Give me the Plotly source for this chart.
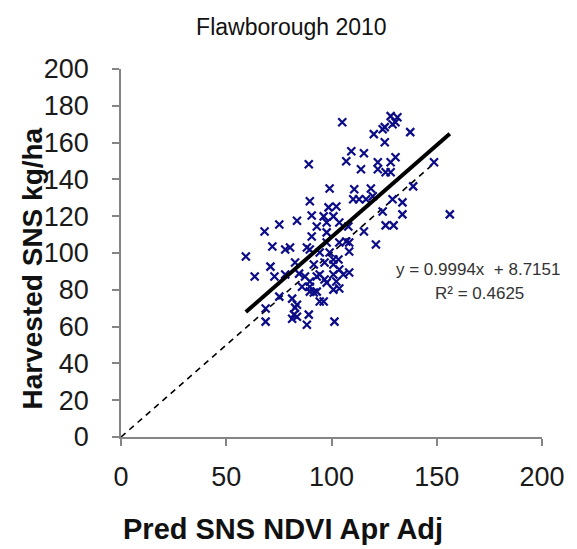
import plotly.graph_objects as go

# Field observations: predicted SNS from April NDVI (adjusted) vs harvested SNS, kg/ha
pred_sns = [
    105.1, 128.1, 131.3, 130.4, 129.0, 125.3, 124.3, 120.1, 137.4, 125.3,
    109.4, 115.4, 107.0, 122.0, 130.4, 128.1, 89.2, 114.0, 122.0, 125.7,
    128.1, 148.7, 110.8, 118.7, 99.1, 138.8, 110.3, 113.1, 116.4, 119.6,
    129.0, 133.7, 89.7, 98.6, 102.3, 124.3, 133.7, 156.2, 90.6, 83.6,
    96.3, 100.9, 75.2, 97.7, 103.7, 93.0, 108.0, 125.7, 129.5, 115.4,
    68.2, 97.7, 121.1, 90.6, 103.7, 107.0, 108.4, 71.9, 78.0, 80.3,
    88.3, 59.3, 99.1, 94.4, 100.9, 89.7, 108.4, 96.7, 103.3, 82.7,
    103.7, 108.4, 71.0, 63.5, 72.9, 78.0, 84.6, 87.4, 93.0, 91.6,
    100.9, 94.4, 100.9, 105.6, 86.0, 89.7, 97.7, 102.3, 89.7, 96.7,
    75.2, 81.3, 91.6, 93.0, 100.9, 103.7, 68.7, 83.6, 82.7, 94.4,
    96.3, 68.7, 82.2, 83.6, 81.3, 89.2, 88.3, 101.4, 89.7, 97.7,
]
harvested_sns = [
    171.1, 174.4, 173.8, 171.1, 170.0, 168.4, 167.3, 164.6, 165.7, 160.2,
    155.3, 154.2, 149.9, 149.3, 152.0, 149.3, 148.2, 145.5, 145.5, 143.9,
    143.9, 149.3, 134.6, 135.1, 135.1, 136.2, 129.2, 129.2, 129.2, 130.8,
    129.2, 127.5, 128.1, 124.8, 125.3, 122.6, 121.0, 121.0, 120.4, 117.5,
    119.9, 119.9, 115.5, 116.6, 116.6, 114.4, 114.4, 115.0, 115.0, 111.7,
    111.7, 111.2, 104.6, 109.0, 105.7, 106.3, 105.7, 103.5, 101.9, 103.0,
    103.0, 98.1, 100.3, 100.3, 96.5, 101.9, 100.8, 94.8, 96.5, 94.8,
    91.0, 89.4, 92.6, 87.2, 87.2, 88.3, 88.8, 87.2, 87.2, 93.7,
    93.7, 88.3, 88.3, 88.3, 81.7, 81.7, 83.9, 84.5, 84.5, 85.6,
    76.3, 75.2, 78.5, 79.0, 80.1, 80.7, 69.8, 71.9, 70.3, 73.6,
    73.6, 62.7, 66.5, 65.4, 64.3, 66.5, 61.0, 62.7, 79.0, 105.7,
]

# Linear trend fitted to the points, and the 1:1 reference line
slope = 0.9994
intercept = 8.7151
r_squared = 0.4625
trend_x = [min(pred_sns), max(pred_sns)]
trend_y = [slope * v + intercept for v in trend_x]
one_to_one = [0, 148]

x_ticks = [0, 50, 100, 150, 200]
y_ticks = [0, 20, 40, 60, 80, 100, 120, 140, 160, 180, 200]

FONT = "Liberation Sans, Arial, sans-serif"
AXIS_GREY = "#858585"

W, H = 577, 549
ML, MR, MT, MB = 121, 28, 69, 112
pw, ph = W - ML - MR, H - MT - MB


def px(x, y):
    """Pixel position on the page -> paper coordinates."""
    return (x - ML) / pw, 1 - (y - MT) / ph


fig = go.Figure()

fig.add_trace(go.Scatter(
    x=one_to_one, y=one_to_one, mode="lines",
    line=dict(color="black", width=1.6, dash="6px,5px"),
    hoverinfo="skip", showlegend=False,
))

fig.add_trace(go.Scatter(
    x=pred_sns, y=harvested_sns, mode="markers",
    marker=dict(symbol="x-thin", size=8, color="#0c0c86",
                line=dict(width=2.2, color="#0c0c86")),
    showlegend=False,
))

fig.add_trace(go.Scatter(
    x=trend_x, y=trend_y, mode="lines",
    line=dict(color="black", width=4),
    hoverinfo="skip", showlegend=False,
))

# trendline equation
for text, (ax, ay) in [(f"y = {slope}x  + {intercept}", (484, 269)),
                       (f"R² = {r_squared}", (485, 293))]:
    x, y = px(ax, ay)
    fig.add_annotation(x=x, y=y, xref="paper", yref="paper", text=text,
                       xanchor="center", yanchor="middle", showarrow=False,
                       font=dict(family=FONT, size=17, color="#333333"))

# axis titles
x, y = px(286, 529)
fig.add_annotation(x=x, y=y, xref="paper", yref="paper",
                   text="<b>Pred SNS NDVI Apr Adj</b>", showarrow=False,
                   xanchor="center", yanchor="middle",
                   font=dict(family=FONT, size=29, color="#111111"))
x, y = px(31, 268)
fig.add_annotation(x=x, y=y, xref="paper", yref="paper",
                   text="<b>Harvested SNS kg/ha</b>", showarrow=False,
                   textangle=-90, xanchor="center", yanchor="middle",
                   font=dict(family=FONT, size=28, color="#111111"))

fig.update_layout(
    width=W, height=H,
    margin=dict(l=ML, r=MR, t=MT, b=MB),
    paper_bgcolor="white", plot_bgcolor="white",
    font=dict(family=FONT, color="#1a1a1a"),
    title=dict(text="Flawborough 2010", x=0.505, xanchor="center",
               y=1 - 27 / H, yanchor="middle",
               font=dict(family=FONT, size=23, color="#111111")),
)

fig.update_xaxes(
    range=[0, 200], tickvals=x_ticks, ticktext=[str(v) for v in x_ticks],
    showgrid=False, zeroline=False, showline=True, linecolor=AXIS_GREY,
    linewidth=1.5, ticks="outside", ticklen=7, tickwidth=1.5, tickcolor=AXIS_GREY,
    tickfont=dict(family=FONT, size=27, color="#1a1a1a"), ticklabelstandoff=8,
)
fig.update_yaxes(
    range=[0, 200], tickvals=y_ticks, ticktext=[str(v) for v in y_ticks],
    showgrid=False, zeroline=False, showline=True, linecolor=AXIS_GREY,
    linewidth=1.5, ticks="outside", ticklen=7, tickwidth=1.5, tickcolor=AXIS_GREY,
    tickfont=dict(family=FONT, size=27, color="#1a1a1a"), ticklabelstandoff=18,
)

fig.write_html("out.html")
